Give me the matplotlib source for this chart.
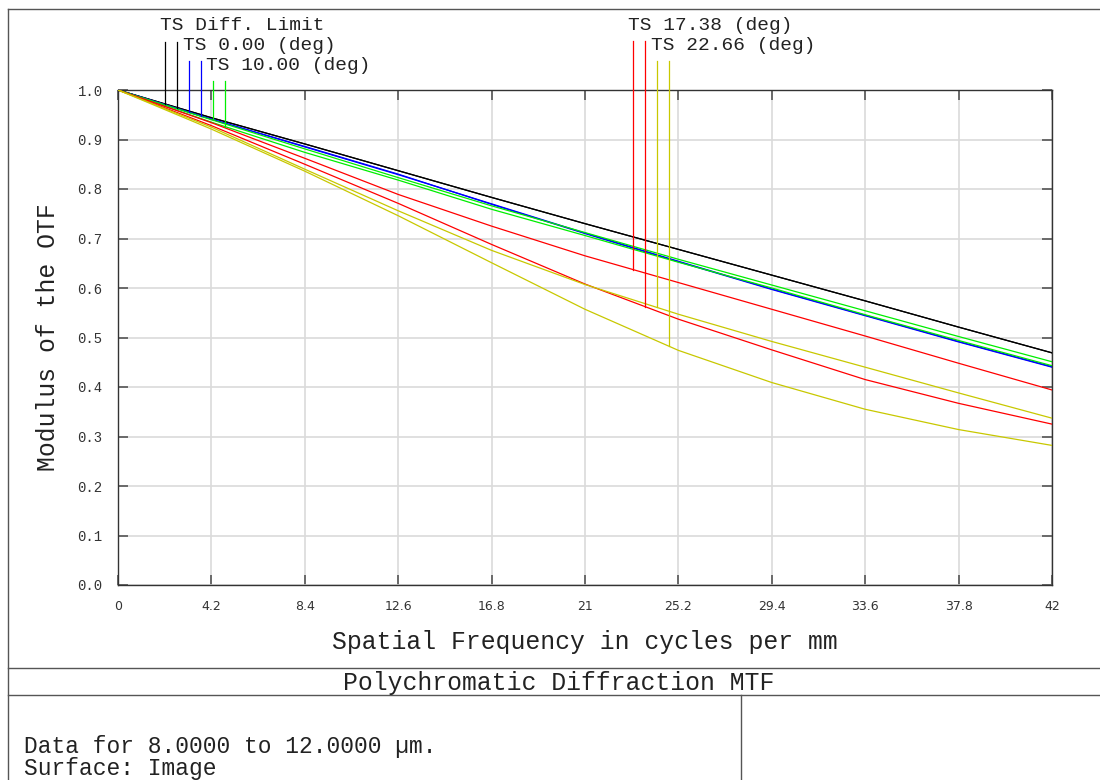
import numpy as np
import matplotlib
matplotlib.use("Agg")
import matplotlib.pyplot as plt
from matplotlib.lines import Line2D
from matplotlib import font_manager

# ---------------- data ----------------
freq = [0, 4.2, 8.4, 12.6, 16.8, 21, 25.2, 29.4, 33.6, 37.8, 42]
diff_T = [1, 0.944, 0.891, 0.837, 0.783, 0.730, 0.678, 0.626, 0.574, 0.521, 0.469]
diff_S = [1, 0.944, 0.891, 0.837, 0.783, 0.730, 0.678, 0.626, 0.574, 0.521, 0.469]
f0_T = [1, 0.941, 0.885, 0.829, 0.770, 0.711, 0.654, 0.598, 0.545, 0.492, 0.441]
f0_S = [1, 0.941, 0.886, 0.830, 0.769, 0.710, 0.653, 0.597, 0.544, 0.491, 0.440]
f10_T = [1, 0.940, 0.881, 0.823, 0.766, 0.712, 0.658, 0.606, 0.554, 0.502, 0.451]
f10_S = [1, 0.935, 0.874, 0.818, 0.759, 0.706, 0.652, 0.600, 0.546, 0.494, 0.443]
f17_T = [1, 0.934, 0.862, 0.789, 0.725, 0.665, 0.611, 0.557, 0.503, 0.448, 0.394]
f17_S = [1, 0.928, 0.850, 0.771, 0.688, 0.608, 0.537, 0.475, 0.415, 0.367, 0.325]
f22_T = [1, 0.925, 0.840, 0.756, 0.676, 0.607, 0.547, 0.492, 0.440, 0.388, 0.337]
f22_S = [1, 0.921, 0.836, 0.746, 0.651, 0.557, 0.474, 0.409, 0.355, 0.314, 0.282]

labels = ["TS Diff. Limit", "TS 0.00 (deg)", "TS 10.00 (deg)",
          "TS 17.38 (deg)", "TS 22.66 (deg)"]
series = [(diff_T, diff_S), (f0_T, f0_S), (f10_T, f10_S),
          (f17_T, f17_S), (f22_T, f22_S)]
colors = ["#000000", "#0000ff", "#00ee00", "#ff0000", "#c8c800"]
xticks = [0, 4.2, 8.4, 12.6, 16.8, 21, 25.2, 29.4, 33.6, 37.8, 42]
xticklabels = ["0", "4.2", "8.4", "12.6", "16.8", "21", "25.2", "29.4",
               "33.6", "37.8", "42"]
yticks = [0.0, 0.1, 0.2, 0.3, 0.4, 0.5, 0.6, 0.7, 0.8, 0.9, 1.0]

# ---------------- layout ----------------
W, H = 1100, 780
mono = "Liberation Mono"
avail = {f.name for f in font_manager.fontManager.ttflist}
narrow = "Liberation Sans Narrow" if "Liberation Sans Narrow" in avail else "DejaVu Sans"

fig = plt.figure(figsize=(W / 100, H / 100), dpi=100)
fig.patch.set_facecolor("white")

def fx(px):
    return px / W

def fy(py):
    return 1 - py / H

ax_l, ax_r, ax_t, ax_b = 118, 1052, 90, 585
ax = fig.add_axes([fx(ax_l), fy(ax_b), fx(ax_r - ax_l), (ax_b - ax_t) / H])

for (t, s), c in zip(series, colors):
    ax.plot(freq, t, color=c, lw=0.9, zorder=3)
    ax.plot(freq, s, color=c, lw=0.9, zorder=3)

ax.set_xlim(0, 42)
ax.set_ylim(0, 1.0)
ax.set_xticks(xticks)
ax.set_xticklabels(xticklabels, fontfamily=narrow, fontsize=9)
ax.set_yticks(yticks)
ax.set_yticklabels([f"{v:.1f}" for v in yticks], fontfamily=mono, fontsize=10)
ax.grid(True, color="#dadada", lw=1.2, zorder=0)
ax.tick_params(direction="in", length=7, width=1.2, color="#555555",
               top=True, right=True, pad=11, labelcolor="#333333")
ax.tick_params(axis="x", pad=11)
for sp in ax.spines.values():
    sp.set_color("#333333")
    sp.set_linewidth(1.0)

ax.set_xlabel("Spatial Frequency in cycles per mm", fontfamily=mono,
              fontsize=17.8, color="#222222", labelpad=12)
ax.set_ylabel("Modulus of the OTF", fontfamily=mono, fontsize=17.8,
              color="#222222", labelpad=13)

# ---------------- legend labels with drop lines ----------------
def px2x(px):
    return (px - ax_l) / (ax_r - ax_l) * 42

def py2y(py):
    return (ax_b - py) / (ax_b - ax_t)

label_pos = [(160, 25), (183, 45), (206, 66), (628, 25), (651, 45)]
line_px = [(165, 177), (189, 201), (213, 225), (633, 645), (657, 669)]
line_top = [42, 61, 81, 41, 61]
for lab, (lx, ly), (p1, p2), top, (t, s), c in zip(labels, label_pos, line_px,
                                                    line_top, series, colors):
    fig.text(fx(lx), fy(ly), lab, fontfamily=mono, fontsize=14,
             color="#222222", ha="left", va="center")
    for p, curve in ((p1, t), (p2, s)):
        xv = px2x(p)
        yend = float(np.interp(xv, freq, curve))
        ax.plot([xv, xv], [py2y(top), yend], color=c, lw=0.9,
                clip_on=False, zorder=4)

# ---------------- outer frame ----------------
fc = "#555555"
def fline(x0, y0, x1, y1):
    fig.add_artist(Line2D([fx(x0), fx(x1)], [fy(y0), fy(y1)], color=fc, lw=1.0))

fline(8, 9, 1100, 9)
fline(8, 9, 8, 780)
fline(8, 668, 1100, 668)
fline(8, 695, 1100, 695)
fline(741, 695, 741, 780)

fig.text(fx(559), fy(683), "Polychromatic Diffraction MTF", fontfamily=mono,
         fontsize=17.8, color="#222222", ha="center", va="center")
fig.text(fx(24), fy(747), "Data for 8.0000 to 12.0000 \u00b5m.", fontfamily=mono,
         fontsize=16.5, color="#222222", ha="left", va="center")
fig.text(fx(24), fy(768), "Surface: Image", fontfamily=mono,
         fontsize=16.5, color="#222222", ha="left", va="center")

fig.savefig("out.png", dpi=100, facecolor="white")
